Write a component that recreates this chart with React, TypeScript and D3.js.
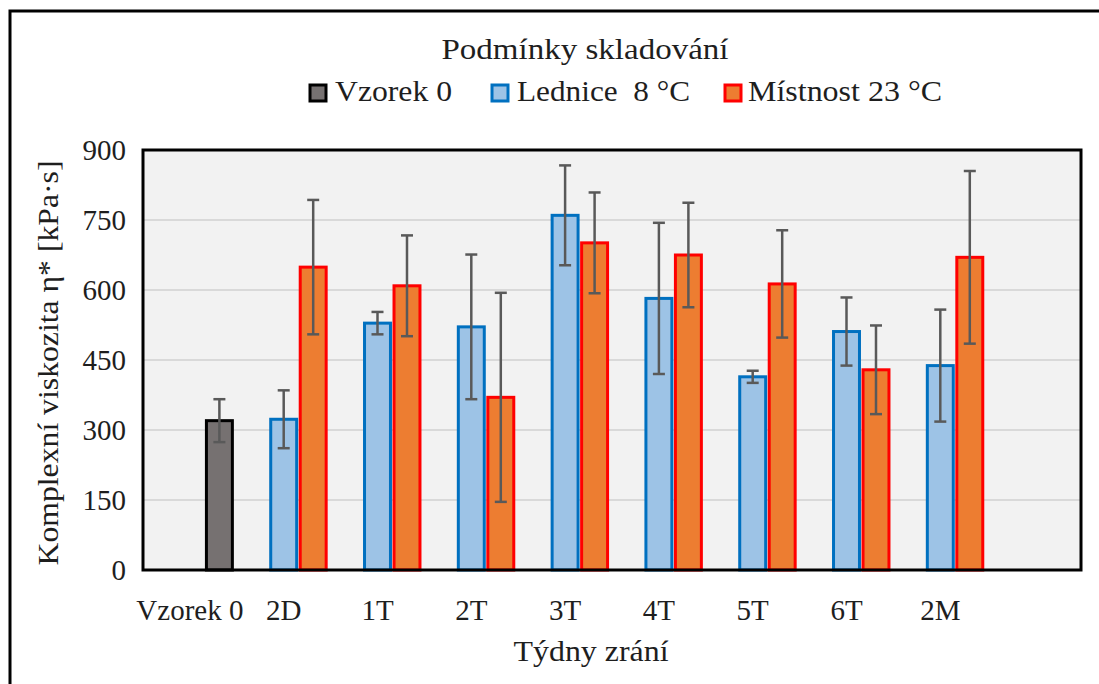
import React from "react";
import * as d3 from "d3";

const categories = ["Vzorek 0", "2D", "1T", "2T", "3T", "4T", "5T", "6T", "2M", ""];
const slots = ["s0", "s1", "s2"];

const vzorekValues = [320];
const vzorekErrors = [46];

const ledniceValues = [null, 323, 529, 521, 760, 582, 414, 511, 438, null];
const ledniceErrors = [null, 62, 24, 155, 107, 162, 13, 73, 120, null];

const mistnostValues = [null, 649, 609, 370, 701, 675, 613, 429, 670, null];
const mistnostErrors = [null, 144, 108, 224, 108, 112, 115, 95, 185, null];

const yTicks = [0, 150, 300, 450, 600, 750, 900];

const seriesDefs = [
  { name: "Vzorek 0", slot: "s2", values: vzorekValues, errors: vzorekErrors, fill: "#767171", stroke: "#000000" },
  { name: "Lednice  8 °C", slot: "s1", values: ledniceValues, errors: ledniceErrors, fill: "#9dc3e6", stroke: "#0070c0" },
  { name: "Místnost 23 °C", slot: "s2", values: mistnostValues, errors: mistnostErrors, fill: "#ed7d31", stroke: "#ff0000" },
];

const legendItems = [
  { label: "Vzorek 0", fill: "#767171", stroke: "#000000", sx: 310, tx: 335, tw: 117 },
  { label: "Lednice  8 °C", fill: "#9dc3e6", stroke: "#0070c0", sx: 492, tx: 517, tw: 173 },
  { label: "Místnost 23 °C", fill: "#ed7d31", stroke: "#ff0000", sx: 725, tx: 748, tw: 194 },
];

const FONT = "'Liberation Serif', 'DejaVu Serif', serif";
const TXT = "#1e1e1e";

export default function App() {
  const W = 1099, H = 684;
  const left = 143, right = 1081, top = 150, bottom = 570;
  const x = d3.scaleBand<string>().domain(categories).range([left, right]).padding(0);
  const inner = d3.scaleBand<string>().domain(slots).range([0, x.bandwidth()]).paddingInner(0.12).paddingOuter(0.15);
  const y = d3.scaleLinear().domain([0, 900]).range([bottom, top]);

  const bars: any[] = [];
  seriesDefs.forEach((s, si) => {
    s.values.forEach((v, i) => {
      if (v == null) return;
      const x0 = (x(categories[i]) as number) + (inner(s.slot) as number);
      const bw = inner.bandwidth();
      const e = s.errors[i] as number;
      const cx = x0 + bw / 2;
      bars.push(
        <g key={`${si}-${i}`}>
          <rect x={x0} y={y(v)} width={bw} height={bottom - y(v)} fill={s.fill} stroke={s.stroke} strokeWidth={3} />
          <line x1={cx} x2={cx} y1={y(v + e)} y2={y(v - e)} stroke="#595959" strokeWidth={2.5} />
          <line x1={cx - 6} x2={cx + 6} y1={y(v + e)} y2={y(v + e)} stroke="#595959" strokeWidth={2.5} />
          <line x1={cx - 6} x2={cx + 6} y1={y(v - e)} y2={y(v - e)} stroke="#595959" strokeWidth={2.5} />
        </g>
      );
    });
  });

  return (
    <svg width={W} height={H} style={{ position: "absolute", left: 0, top: 0, background: "#fff" }} fontFamily={FONT}>
      <rect x={0} y={0} width={W} height={H} fill="#ffffff" />
      {/* outer frame */}
      <rect x={10} y={11} width={W + 20} height={H + 20} fill="none" stroke="#000" strokeWidth={3} />

      {/* legend title */}
      <text x={585} y={59} textAnchor="middle" fontSize={29} fill={TXT} textLength={287} lengthAdjust="spacingAndGlyphs">
        Podmínky skladování
      </text>
      {legendItems.map((l) => (
        <g key={l.label}>
          <rect x={l.sx} y={85} width={16} height={16} fill={l.fill} stroke={l.stroke} strokeWidth={3} />
          <text x={l.tx} y={101} fontSize={29} fill={TXT} textLength={l.tw} lengthAdjust="spacingAndGlyphs" style={{ whiteSpace: "pre" }}>
            {l.label}
          </text>
        </g>
      ))}

      {/* plot area */}
      <rect x={left} y={top} width={right - left} height={bottom - top} fill="#f2f2f2" />
      {yTicks.map((t) => (
        <line key={t} x1={left} x2={right} y1={y(t)} y2={y(t)} stroke="#d9d9d9" strokeWidth={2} />
      ))}
      {bars}
      <rect x={left} y={top} width={right - left} height={bottom - top} fill="none" stroke="#000" strokeWidth={3} />

      {/* y ticks */}
      {yTicks.map((t) => (
        <text key={t} x={126} y={y(t)} dy="0.35em" textAnchor="end" fontSize={29} fill={TXT}>
          {t}
        </text>
      ))}
      {/* x ticks */}
      {categories.map((c) => (
        <text key={c || "empty"} x={(x(c) as number) + x.bandwidth() / 2} y={620} textAnchor="middle" fontSize={29} fill={TXT}>
          {c}
        </text>
      ))}

      {/* axis titles */}
      <text x={591} y={661} textAnchor="middle" fontSize={29} fill={TXT} textLength={155} lengthAdjust="spacingAndGlyphs">
        Týdny zrání
      </text>
      <text transform={`translate(58, ${363}) rotate(-90)`} textAnchor="middle" fontSize={29} fill={TXT} textLength={405} lengthAdjust="spacingAndGlyphs">
        Komplexní viskozita η* [kPa·s]
      </text>
    </svg>
  );
}
